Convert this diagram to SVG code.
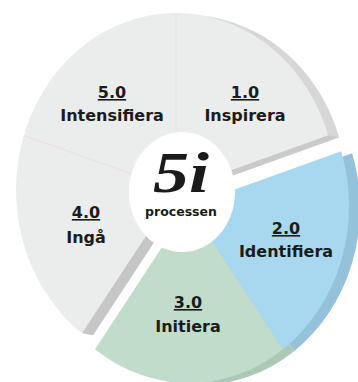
<svg xmlns="http://www.w3.org/2000/svg" width="358" height="382" viewBox="0 0 358 382">
<style>
.lbl{font-family:"DejaVu Sans",sans-serif;font-weight:bold;font-size:16px;fill:#1b1b1b;text-anchor:middle}
.num{text-decoration:underline}
.divider{stroke-width:0.8;fill:none}
</style>
<rect width="358" height="382" fill="#ffffff"/>
<g id="connectors"></g>
<g id="gray-group">
  <path d="M187,192 L92.95,335.2 A160,177 0 1 1 339.2,137.3 Z" fill="#d7d7d7"/>
  <polygon points="176,190 81.95,333.2 92.95,335.2 187,192" fill="#c6c6c6"/>
  <polygon points="176,190 328.2,135.3 339.2,137.3 187,192" fill="#cacaca"/>
  <path d="M176,190 L81.95,333.2 A160,177 0 1 1 328.2,135.3 Z" fill="#ebecec"/>
  <line class="divider" x1="176" y1="190" x2="176" y2="13" stroke="#e2e3e3"/>
  <line class="divider" x1="176" y1="190" x2="23.8" y2="135.3" stroke="#eadcdc"/>
</g>
<g id="side-2-3">
  <path d="M200,208 L106,351.2 A160,177 0 0 0 294.05,351.2 Z" fill="#aec8b6"/>
  <path d="M200,208 L352.2,153.3 A160,177 0 0 1 294.05,351.2 Z" fill="#95c2db"/>
</g>
<g id="node-2">
  <path d="M189,206 L341.2,151.3 A160,177 0 0 1 283.05,349.2 Z" fill="#a8d8f0"/>
  <text class="lbl num" x="286" y="234">2.0</text>
  <text class="lbl" x="286" y="257">Identifiera</text>
</g>
<g id="node-3">
  <path d="M189,206 L283.05,349.2 A160,177 0 0 1 95,349.2 Z" fill="#c2dccc"/>
  <text class="lbl num" x="188" y="308">3.0</text>
  <text class="lbl" x="188" y="332">Initiera</text>
</g>
<g id="node-1">
  <text class="lbl num" x="245" y="98">1.0</text>
  <text class="lbl" x="245" y="121">Inspirera</text>
</g>
<g id="node-5">
  <text class="lbl num" x="112" y="98">5.0</text>
  <text class="lbl" x="112" y="121">Intensifiera</text>
</g>
<g id="node-4">
  <text class="lbl num" x="86" y="218">4.0</text>
  <text class="lbl" x="86" y="243">Ingå</text>
</g>
<g id="center">
  <ellipse cx="182" cy="192" rx="53" ry="60" fill="#ffffff"/>
  <text x="181" y="192" font-family="Liberation Serif, serif" font-weight="bold" font-style="italic" font-size="56" fill="#1b1b1b" text-anchor="middle" textLength="56" lengthAdjust="spacingAndGlyphs">5i</text>
  <text x="181" y="216" font-family="DejaVu Sans, sans-serif" font-weight="bold" font-size="12.5" fill="#1b1b1b" text-anchor="middle">processen</text>
</g>
</svg>
